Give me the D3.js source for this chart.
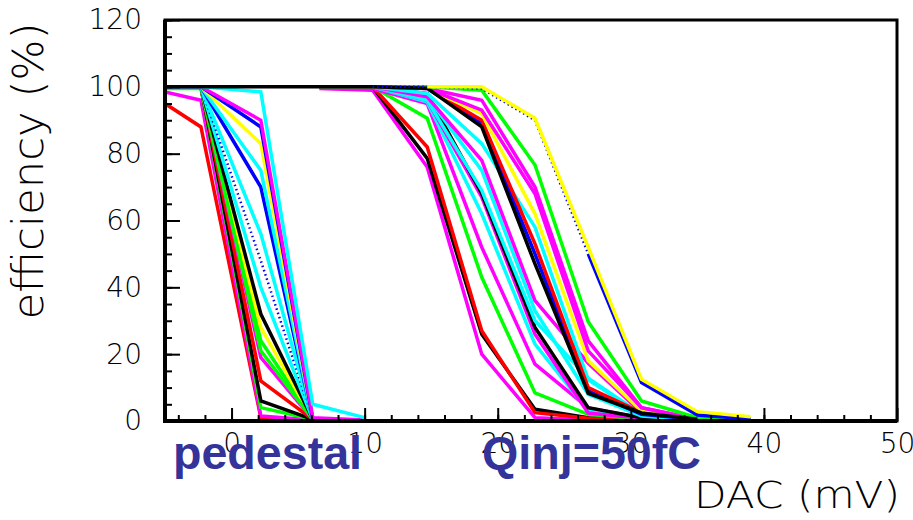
<!DOCTYPE html>
<html>
<head>
<meta charset="utf-8">
<script src="https://cdn.jsdelivr.net/npm/d3@7"></script>
<style>
  body { margin: 0; background: #fff; }
  svg { display: block; }
  text { font-family: "DejaVu Sans", "Liberation Sans", Arial, sans-serif; }
  .thin { font-weight: 200; }
</style>
</head>
<body>
<svg width="913" height="520"></svg>
<script>
// threshold scans, DAC (mV) vs efficiency (%)
var pedX = [-5, -2.3, 2.2, 6.1, 10];
var pedSeries = [
  [95, 88, 1, 0.3, null],
  [98.5, 96, 1.5, 0.3, null],
  [99.5, 99.5, 4, 0.5, null],
  [100, 100, 6, 0.5, null],
  [100, 100, 12, 0.5, null],
  [100, 100, 19, 0.5, null],
  [100, 100, 24, 0.5, null],
  [100, 100, 28, 0.5, null],
  [100, 100, 21, 0.5, null],
  [100, 100, 32, 0.5, null],
  [100, 100, 40, 0.5, null],
  [100, 100, 48, 0.5, null],
  [100, 100, 56, 0.5, null],
  [100, 100, 70, 0.5, null],
  [100, 100, 75, 0.5, null],
  [100, 100, 83, 0.5, null],
  [100, 100, 88, 0.5, null],
  [100, 100, 90, 1, 0.3],
  [100, 100, 98.5, 5, 1]
];
var pedColors = ['red', 'magenta', 'lime', 'black', 'red', 'magenta', 'lime', 'yellow', 'lime', 'black',
  'cyan', 'blue', 'cyan', 'blue', 'cyan', 'yellow', 'blue', 'magenta', 'cyan'];
var pedDotted = [0, 0, 0, 0, 0, 0, 0, 0, 0, 0, 0, 1, 0, 0, 0, 0, 0, 0, 0];

var qinjX = [-5, 6.6, 10.6, 14.7, 18.8, 22.8, 26.8, 30.8, 35.0, 39.0];
var qinjSeries = [
  [null, 99.5, 99, 76, 20, 1, 0.3, null, null, null],
  [null, 100, 100, 78.6, 26, 3.5, 1, 0.5, null, null],
  [null, 100, 100, 82, 27, 2.5, 0.8, 0.3, null, null],
  [null, 100, 100, 90.6, 43, 8.4, 2, 0.6, 0.3, null],
  [null, 100, 99.5, 95, 52, 17, 3.9, 1, 0.3, null],
  [null, 100, 100, 95.5, 62, 23, 3, 1, 0.3, null],
  [null, 100, 100, 96, 67, 26, 2.4, 0.8, 0.3, null],
  [null, 100, 100, 98, 68, 28, 4, 1, 0.3, null],
  [null, 100, 100, 96, 69, 30, 12.8, 2, 0.5, null],
  [null, 100, 100, 97, 75, 33, 8, 1.5, 0.3, null],
  [null, 100, 100, 97, 78, 36, 17.3, 2.5, 0.5, null],
  [null, 100, 100, 98, 83, 58, 12.3, 2, 0.5, null],
  [null, 100, 100, 99.5, 89, 50, 9, 2, 0.5, null],
  [null, 100, 100, 99.6, 90, 53, 10, 2.5, 0.5, null],
  [null, 100, 100, 99.5, 92, 62, 18, 3, 0.5, null],
  [null, 100, 100, 99.5, 93, 68, 21, 4, 0.5, null],
  [null, 100, 100, 99.5, 96, 70, 24, 4, 0.5, null],
  [null, 100, 100, 100, 99, 76.6, 29.7, 6, 1, 0.3],
  [100, 100, 100, 99.6, 88, 47, 8.3, 2.4, 0.5, null],
  [null, null, null, null, null, null, 50, 11.5, 1.8, 0.6],
  [null, null, 100, 100, 99.5, 90, 50, null, null, null],
  [null, null, null, 100, 100, 90.6, 52, 12.5, 2.8, 1.3]
];
var qinjColors = ['magenta', 'black', 'red', 'lime', 'magenta', 'cyan', 'magenta', 'black', 'cyan', 'cyan',
  'magenta', 'cyan', 'blue', 'red', 'yellow', 'magenta', 'magenta', 'lime', 'black', 'blue', 'blue', 'yellow'];
var qinjDotted = [0, 0, 0, 0, 0, 0, 0, 0, 0, 0, 0, 0, 0, 0, 0, 0, 0, 0, 0, 0, 1, 0];

var xTicks = [0, 10, 20, 30, 40, 50];
var yTicks = [0, 20, 40, 60, 80, 100, 120];
var labels = ['pedestal', 'Qinj=50fC'];

var svg = d3.select('svg');
var fLeft = 165, fRight = 897, fTop = 20, fBottom = 421;

var x = d3.scaleLinear().domain([-5, 50]).range([fLeft, fRight]);
var y = d3.scaleLinear().domain([0, 120]).range([fBottom, fTop]);

svg.append('clipPath').attr('id', 'frame')
  .append('rect')
  .attr('x', fLeft).attr('y', fTop)
  .attr('width', fRight - fLeft).attr('height', fBottom - fTop);

var line = d3.line()
  .defined(function(d) { return d[1] != null; })
  .x(function(d) { return x(d[0]); })
  .y(function(d) { return y(d[1]); });

function drawGroup(xs, series, colors, dotted) {
  var g = svg.append('g').attr('clip-path', 'url(#frame)');
  g.selectAll('path').data(series).enter().append('path')
    .attr('d', function(s) {
      return line(s.map(function(v, i) { return [xs[i], v]; }));
    })
    .attr('fill', 'none')
    .attr('stroke', function(s, i) { return colors[i]; })
    .attr('stroke-width', function(s, i) { return dotted[i] ? 2.5 : 3.5; })
    .attr('stroke-dasharray', function(s, i) { return dotted[i] ? '1.5,3' : null; })
    .attr('stroke-linejoin', 'miter');
}

drawGroup(pedX, pedSeries, pedColors, pedDotted);
drawGroup(qinjX, qinjSeries, qinjColors, qinjDotted);

// minor ticks
svg.append('g')
  .attr('transform', 'translate(0,' + fBottom + ')')
  .call(d3.axisBottom(x).tickValues(d3.range(-4, 50, 2)).tickSize(-6).tickFormat(''))
  .call(function(g) { g.select('.domain').remove(); });
svg.append('g')
  .attr('transform', 'translate(' + fLeft + ',0)')
  .call(d3.axisLeft(y).tickValues(d3.range(0, 121, 5)).tickSize(-7).tickFormat(''))
  .call(function(g) { g.select('.domain').remove(); });

// major ticks with labels
var xAxis = svg.append('g')
  .attr('transform', 'translate(0,' + fBottom + ')')
  .call(d3.axisBottom(x).tickValues(xTicks).tickSize(-13).tickPadding(12));
var yAxis = svg.append('g')
  .attr('transform', 'translate(' + fLeft + ',0)')
  .call(d3.axisLeft(y).tickValues(yTicks).tickSize(-15).tickPadding(23));

[xAxis, yAxis].forEach(function(a) {
  a.select('.domain').remove();
  a.selectAll('text')
    .attr('class', 'thin')
    .style('font-family', '"DejaVu Sans", "Liberation Sans", sans-serif')
    .style('font-size', '28px')
    .attr('fill', '#000');
});
svg.selectAll('.tick line').attr('stroke', '#000').attr('stroke-width', 2);

// frame
svg.append('rect')
  .attr('x', fLeft).attr('y', fTop)
  .attr('width', fRight - fLeft).attr('height', fBottom - fTop)
  .attr('fill', 'none').attr('stroke', '#000').attr('stroke-width', 3);
svg.append('path')
  .attr('d', 'M' + fLeft + ',' + fTop + 'V' + fBottom + 'H' + fRight)
  .attr('fill', 'none').attr('stroke', '#000').attr('stroke-width', 4);

// axis titles
svg.append('text')
  .attr('class', 'thin')
  .attr('transform', 'translate(43,171) rotate(-90)')
  .attr('text-anchor', 'middle')
  .attr('textLength', 297)
  .attr('lengthAdjust', 'spacingAndGlyphs')
  .style('font-size', '42px')
  .text('efficiency (%)');

svg.append('text')
  .attr('class', 'thin')
  .attr('x', 694).attr('y', 508)
  .attr('textLength', 206)
  .attr('lengthAdjust', 'spacingAndGlyphs')
  .style('font-size', '37px')
  .text('DAC (mV)');

// group labels
svg.append('text')
  .attr('x', 173).attr('y', 469)
  .attr('textLength', 189)
  .attr('lengthAdjust', 'spacingAndGlyphs')
  .attr('fill', '#333399')
  .style('font-family', '"Liberation Sans", Arial, sans-serif')
  .style('font-size', '46px').style('font-weight', 'bold')
  .text(labels[0]);
svg.append('text')
  .attr('x', 482).attr('y', 469)
  .attr('textLength', 219)
  .attr('lengthAdjust', 'spacingAndGlyphs')
  .attr('fill', '#333399')
  .style('font-family', '"Liberation Sans", Arial, sans-serif')
  .style('font-size', '46px').style('font-weight', 'bold')
  .text(labels[1]);
</script>
</body>
</html>
